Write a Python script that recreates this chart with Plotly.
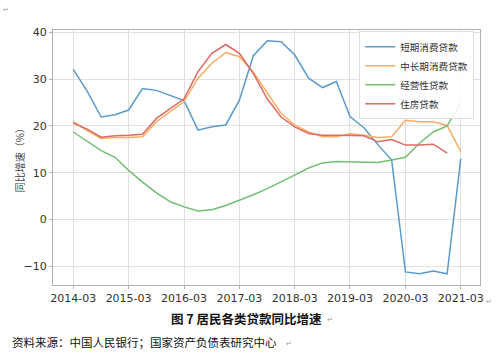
import plotly.graph_objects as go

dates = ["2014-03-01", "2014-06-01", "2014-09-01", "2014-12-01",
         "2015-03-01", "2015-06-01", "2015-09-01", "2015-12-01",
         "2016-03-01", "2016-06-01", "2016-09-01", "2016-12-01",
         "2017-03-01", "2017-06-01", "2017-09-01", "2017-12-01",
         "2018-03-01", "2018-06-01", "2018-09-01", "2018-12-01",
         "2019-03-01", "2019-06-01", "2019-09-01", "2019-12-01",
         "2020-03-01", "2020-06-01", "2020-09-01", "2020-12-01",
         "2021-03-01"]

short_consumer = [32.1, 27.4, 21.9, 22.4, 23.4, 28.0, 27.6, 26.5,
                  25.4, 19.1, 19.8, 20.2, 25.5, 35.0, 38.2, 38.0,
                  35.2, 30.2, 28.2, 29.5, 22.0, 19.6, 16.0, 12.7,
                  -11.2, -11.6, -11.0, -11.6, 13.0]
long_consumer = [20.9, 19.0, 17.3, 17.5, 17.5, 17.7, 20.9, 23.0,
                 25.2, 30.2, 33.4, 35.7, 34.8, 31.5, 27.0, 22.7,
                 20.2, 18.7, 17.7, 17.7, 18.3, 18.0, 17.5, 17.7,
                 21.2, 20.9, 20.9, 20.1, 14.5]
business = [18.7, 16.7, 14.7, 13.3, 10.5, 8.0, 5.7, 3.8,
            2.7, 1.8, 2.1, 3.0, 4.1, 5.3, 6.6, 8.0,
            9.5, 11.0, 12.1, 12.4, 12.3, 12.2, 12.2, 12.7,
            13.3, 16.3, 18.7, 20.0, 24.8]
housing = [20.6, 19.3, 17.6, 17.9, 18.0, 18.2, 21.6, 23.7,
           25.8, 31.6, 35.5, 37.4, 35.5, 31.2, 25.8, 21.9,
           19.8, 18.4, 18.0, 18.0, 18.0, 17.9, 16.6, 17.1,
           15.9, 15.9, 16.1, 14.2, None]

series_names = ["短期消费贷款", "中长期消费贷款", "经营性贷款", "住房贷款"]
series_colors = ["#5b9bc9", "#f7ad62", "#72bf72", "#dc6a62"]

tick_vals = ["2014-03-01", "2015-03-01", "2016-03-01", "2017-03-01",
             "2018-03-01", "2019-03-01", "2020-03-01", "2021-03-01"]
tick_text = ["2014-03", "2015-03", "2016-03", "2017-03",
             "2018-03", "2019-03", "2020-03", "2021-03"]
y_ticks = [-10, 0, 10, 20, 30, 40]

y_title = "同比增速（%）"
caption = "图 7 居民各类贷款同比增速"
source = "资料来源：中国人民银行；国家资产负债表研究中心"

fig = go.Figure()
for name, vals, col in zip(series_names,
                           [short_consumer, long_consumer, business, housing],
                           series_colors):
    fig.add_trace(go.Scatter(x=dates, y=vals, name=name, mode="lines",
                             line=dict(color=col, width=1.5),
                             connectgaps=False))

tick_font = dict(family="DejaVu Sans", size=11, color="#333333")
cjk = "Noto Sans CJK SC"

fig.update_layout(
    width=500, height=361,
    margin=dict(l=53, r=20, t=30, b=76),
    paper_bgcolor="white", plot_bgcolor="white",
    showlegend=True,
    legend=dict(x=0.717, y=0.995, xanchor="left", yanchor="top",
                bgcolor="rgba(255,255,255,0.85)", bordercolor="#dddddd",
                borderwidth=1, font=dict(family=cjk, size=9.6, color="#333333"),
                itemwidth=30, tracegroupgap=0),
    xaxis=dict(type="date", range=["2013-10-18", "2021-07-06"],
               tickmode="array", tickvals=tick_vals, ticktext=tick_text,
               tickfont=tick_font, showgrid=True, gridcolor="#e0e0e0",
               gridwidth=1, showline=True, linecolor="#b0b0b0", mirror=True,
               ticks="outside", ticklen=3, tickcolor="#b0b0b0",
               zeroline=False),
    yaxis=dict(range=[-14.0, 40.5], tickmode="array", tickvals=y_ticks,
               tickfont=tick_font, showgrid=True, gridcolor="#e0e0e0",
               gridwidth=1, showline=True, linecolor="#b0b0b0", mirror=True,
               ticks="outside", ticklen=3, tickcolor="#b0b0b0",
               zeroline=False),
)

fig.add_annotation(text=y_title, xref="paper", yref="paper",
                   x=-0.078, y=0.5, textangle=-90, showarrow=False,
                   xanchor="center", yanchor="middle",
                   font=dict(family=cjk, size=10, color="#444444"))
fig.add_annotation(text="<b>" + caption + "</b>", xref="paper", yref="paper",
                   x=0.454, y=-0.13, showarrow=False,
                   xanchor="center", yanchor="middle",
                   font=dict(family=cjk, size=12.5, color="#111111"))
fig.add_annotation(text=source, xref="paper", yref="paper",
                   x=-0.101, y=-0.224, showarrow=False,
                   xanchor="left", yanchor="middle",
                   font=dict(family=cjk, size=11.5, color="#111111"))
for px_x, px_y in [(6, 10), (489, 302), (330, 320), (289, 344)]:
    fig.add_annotation(text="↵", xref="paper", yref="paper",
                       x=(px_x - 53) / 427, y=(285 - px_y) / 255,
                       showarrow=False, xanchor="center", yanchor="middle",
                       font=dict(family="DejaVu Sans", size=7, color="#999999"))

fig.write_html("out.html",
               config={"displayModeBar": False},
               post_script="document.body.style.margin='0px';")
